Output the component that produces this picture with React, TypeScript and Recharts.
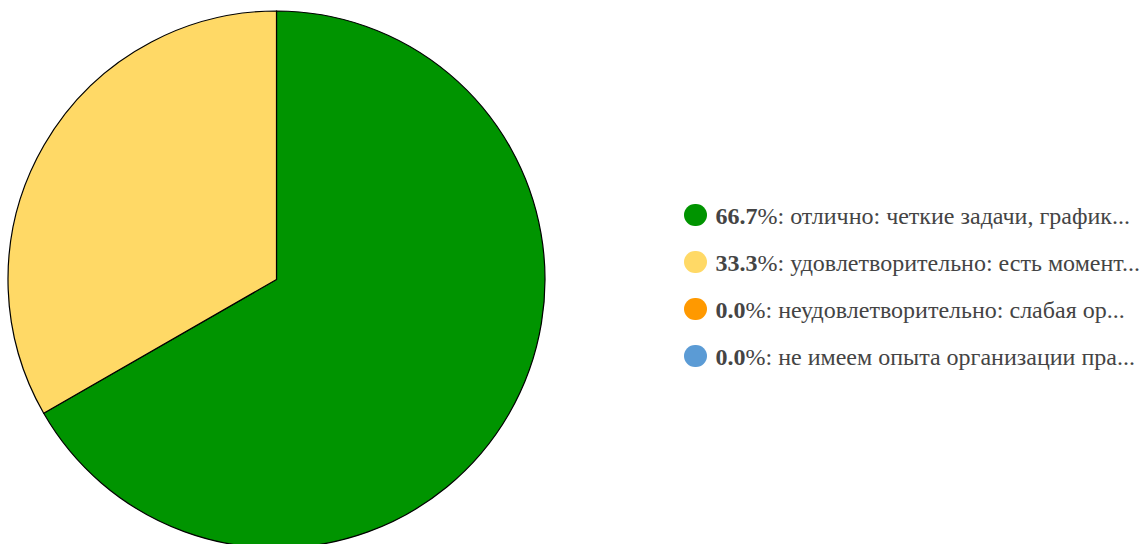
import React from "react";
import { PieChart, Pie, Cell, Legend } from "recharts";

const labels = [
  "отлично: четкие задачи, график...",
  "удовлетворительно: есть момент...",
  "неудовлетворительно: слабая ор...",
  "не имеем опыта организации пра...",
];
const percents = [66.7, 33.3, 0.0, 0.0];
const colors = ["#009400", "#ffd966", "#ff9900", "#5b9bd5"];

const data = labels.map((name, i) => ({ name, value: percents[i], color: colors[i] }));

const LegendContent = () => (
  <div style={{ fontFamily: "'Liberation Serif', serif", fontSize: 24, color: "#444" }}>
    {data.map((d) => (
      <div key={d.name} style={{ display: "flex", alignItems: "center", height: 47 }}>
        <span
          style={{
            display: "inline-block",
            flex: "none",
            width: 22.5,
            height: 22.5,
            borderRadius: "50%",
            background: d.color,
            marginRight: 9,
          }}
        />
        <span style={{ whiteSpace: "nowrap", position: "relative", top: 1 }}>
          <b>{d.value.toFixed(1)}</b>%: {d.name}
        </span>
      </div>
    ))}
  </div>
);

export default function App() {
  return (
    <div style={{ position: "absolute", left: 0, top: 0, width: 1147, height: 544, background: "#fff" }}>
      <PieChart width={1147} height={544} margin={{ top: 0, right: 0, bottom: 0, left: 0 }}>
        <Pie
          data={data.filter((d) => d.value > 0)}
          dataKey="value"
          nameKey="name"
          cx={276.5}
          cy={279.5}
          outerRadius={268.5}
          startAngle={90}
          endAngle={-270}
          stroke="#000"
          strokeWidth={1.2}
          isAnimationActive={false}
        >
          {data
            .filter((d) => d.value > 0)
            .map((d) => (
              <Cell key={d.name} fill={d.color} />
            ))}
        </Pie>
        <Legend
          content={LegendContent}
          wrapperStyle={{ position: "absolute", left: 684, top: 191.5, width: 463 }}
        />
      </PieChart>
    </div>
  );
}
